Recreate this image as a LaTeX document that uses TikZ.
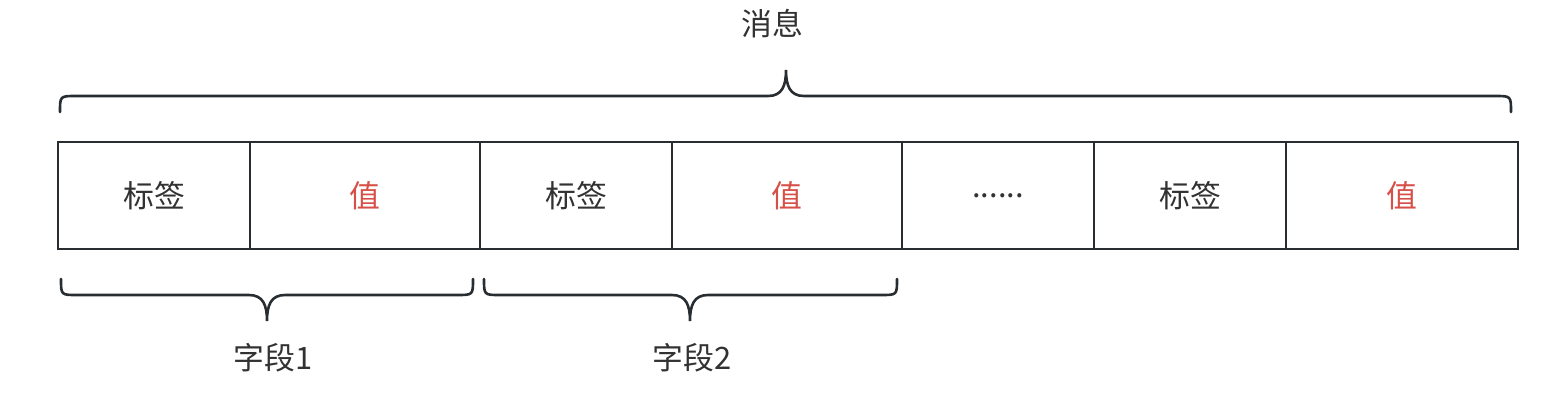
\documentclass[tikz,border=0pt]{standalone}
\usepackage{fontspec}
\setmainfont{Noto Sans CJK SC}
\definecolor{lineC}{RGB}{40,45,50}
\definecolor{textC}{RGB}{50,50,50}
\definecolor{redC}{RGB}{214,80,72}
\begin{document}
\begin{tikzpicture}[x=1bp,y=-1bp,
  cell/.style={draw=lineC, line width=2.6bp, anchor=north west, minimum height=107bp, inner sep=0pt, outer sep=0pt, font=\fontsize{31}{34}\selectfont, text=textC},
  valtext/.style={text=redC},
  brace/.style={draw=lineC, line width=2.6bp, line cap=round},
  lbl/.style={font=\fontsize{31}{34}\selectfont, text=textC}]
\useasboundingbox (0,0) rectangle (1568,400);
\node[cell, minimum width=192bp] (c1) at (58,142) {标签};
\node[cell, minimum width=230bp, valtext] (c2) at (250,142) {值};
\node[cell, minimum width=192bp] (c3) at (480,142) {标签};
\node[cell, minimum width=230bp, valtext] (c4) at (672,142) {值};
\node[cell, minimum width=192bp] (c5) at (902,142) {......};
\node[cell, minimum width=192bp] (c6) at (1094,142) {标签};
\node[cell, minimum width=232bp, valtext] (c7) at (1286,142) {值};
% top brace
\draw[brace] (60,112) .. controls (60,96) .. (76,96) -- (768,96)
  .. controls (782,96) and (786,86) .. (786,70)
  .. controls (786,86) and (790,96) .. (804,96) -- (1495,96)
  .. controls (1511,96) .. (1511,112);
\node[lbl] (msg) at (772,24) {消息};
% bottom brace 1
\draw[brace] (61,279) .. controls (61,295) .. (77,295) -- (249,295)
  .. controls (263,295) and (267,305) .. (267,321)
  .. controls (267,305) and (271,295) .. (285,295) -- (457,295)
  .. controls (473,295) .. (473,279);
\node[lbl] (f1) at (273,358) {字段1};
% bottom brace 2
\draw[brace] (484,279) .. controls (484,295) .. (500,295) -- (672,295)
  .. controls (686,295) and (690,305) .. (690,321)
  .. controls (690,305) and (694,295) .. (708,295) -- (881,295)
  .. controls (897,295) .. (897,279);
\node[lbl] (f2) at (692,358) {字段2};
\end{tikzpicture}
\end{document}
